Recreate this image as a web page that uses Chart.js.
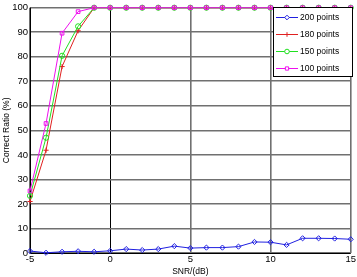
<!DOCTYPE html>
<html><head><meta charset="utf-8">
<script src="https://cdn.jsdelivr.net/npm/chart.js@4/dist/chart.umd.min.js"></script>
<style>html,body{margin:0;padding:0;background:#fff;}#wrap{width:357px;height:277px;position:relative;}</style>
</head><body><div id="wrap"><canvas id="c" width="357" height="277"></canvas></div>
<script>
const snr = [-5,-4,-3,-2,-1,0,1,2,3,4,5,6,7,8,9,10,11,12,13,14,15];
const pts200 = [0.8,0.1,0.5,0.7,0.5,0.9,1.6,1.2,1.6,2.8,2.0,2.2,2.2,2.6,4.5,4.4,3.3,6.0,6.0,5.9,5.6];
const pts180 = [21,41.9,76,90.6,100,100,100,100,100,100,100,100,100,100,100,100,100,100,100,100,100];
const pts150 = [23.3,47,80.4,92.4,100,100,100,100,100,100,100,100,100,100,100,100,100,100,100,100,100];
const pts100 = [25.3,52.8,89.6,98.4,100,100,100,100,100,100,100,100,100,100,100,100,100,100,100,100,100];
const seriesLabels = ['200 points','180 points','150 points','100 points'];
const xTicks = [-5,0,5,10,15];
const yTicks = [0,10,20,30,40,50,60,70,80,90,100];

const FONT = 'Liberation Sans, Arial, sans-serif';
function mk(data, label, color, style, order){
  return {label, data: snr.map((x,i)=>({x, y:data[i]})), borderColor: color, backgroundColor: color,
    pointStyle: style, pointRadius: 2.6, pointBorderWidth: 1, pointBackgroundColor: 'rgba(0,0,0,0)',
    pointBorderColor: color, borderWidth: 1, tension: 0, order, clip: false};
}
const datasets = [
  mk(pts200, seriesLabels[0], '#2020e0', 'rectRot', 3),
  mk(pts180, seriesLabels[1], '#e02020', 'cross', 2),
  mk(pts150, seriesLabels[2], '#20e020', 'circle', 1),
  mk(pts100, seriesLabels[3], '#ee10ee', 'rect', 0)
];

const legendBox = {
  id: 'legendBox',
  afterDatasetsDraw(chart){
    const ctx = chart.ctx;
    const x0 = 273, y0 = 7, w = 80, h = 70;
    ctx.save();
    ctx.fillStyle = '#fff';
    ctx.fillRect(x0, y0, w, h);
    ctx.strokeStyle = '#000'; ctx.lineWidth = 1;
    ctx.strokeRect(x0+0.5, y0+0.5, w-1, h-1);
    ctx.font = '8.5px ' + FONT;
    ctx.textBaseline = 'middle';
    chart.data.datasets.forEach((ds, i) => {
      const y = 17 + i*17;
      ctx.strokeStyle = ds.borderColor; ctx.lineWidth = 1;
      ctx.beginPath(); ctx.moveTo(276, y+0.5); ctx.lineTo(298, y+0.5); ctx.stroke();
      ctx.fillStyle = '#fff';
      ctx.strokeStyle = ds.borderColor;
      Chart.helpers.drawPoint(ctx, {pointStyle: ds.pointStyle, radius: 2.3, borderWidth: 1}, 287, y+0.5);
      ctx.fillStyle = '#000';
      ctx.fillText(ds.label, 300, y+0.5);
    });
    ctx.restore();
  }
};
const frame = {
  id: 'frame',
  beforeDatasetsDraw(chart){
    const {ctx, chartArea:a} = chart;
    ctx.save(); ctx.strokeStyle='#000'; ctx.lineWidth=1;
    ctx.beginPath(); ctx.moveTo(a.left+0.5,a.top); ctx.lineTo(a.left+0.5,a.bottom+0.5); ctx.lineTo(a.right,a.bottom+0.5); ctx.stroke();
    ctx.restore();
  }
};

new Chart(document.getElementById('c'), {
  type: 'line',
  data: { datasets },
  plugins: [frame, legendBox],
  options: {
    responsive: false, animation: false, devicePixelRatio: 1,
    layout: { padding: { left: 2, right: 5, top: 3, bottom: 0 } },
    plugins: { legend: { display: false }, tooltip: { enabled: false } },
    scales: {
      x: {
        type: 'linear', min: -5, max: 15,
        afterBuildTicks: s => { s.ticks = xTicks.map(v => ({value: v})); },
        afterFit: s => { s.height = 24; },
        grid: { color: c => c.tick && c.tick.value === 0 ? '#000' : '#707070', lineWidth: c => c.tick && c.tick.value === 0 ? 1 : 1.6, drawTicks: false },
        border: { display: false },
        ticks: { color: '#000', font: { family: FONT, size: 9.5 }, padding: 1, maxRotation: 0 },
        title: { display: true, text: 'SNR/(dB)', color: '#000', font: { family: FONT, size: 8.5 }, padding: { top: 0, bottom: 0 } }
      },
      y: {
        min: 0, max: 100,
        afterBuildTicks: s => { s.ticks = yTicks.map(v => ({value: v})); },
        afterFit: s => { s.width = 28; },
        grid: { color: '#707070', lineWidth: 1.6, drawTicks: false },
        border: { display: false },
        ticks: { color: '#000', font: { family: FONT, size: 9.5 }, padding: 2 },
        title: { display: true, text: 'Correct Ratio (%)', color: '#000', font: { family: FONT, size: 8.5 }, padding: { top: 0, bottom: 0 } }
      }
    }
  }
});
</script></body></html>
